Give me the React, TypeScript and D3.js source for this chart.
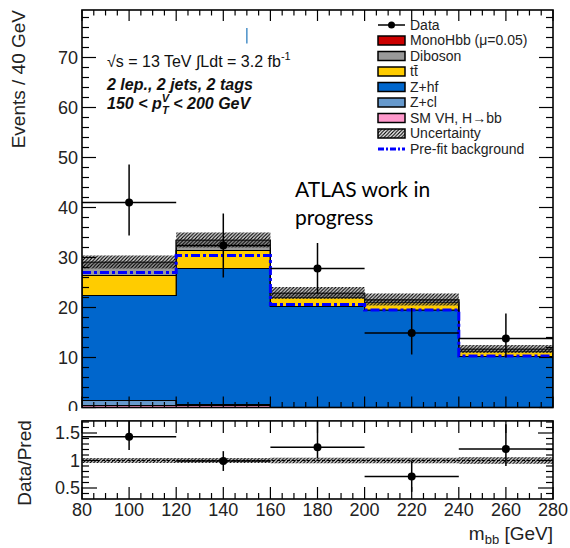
import React from 'react';
import * as d3 from 'd3';

// bins of m_bb [GeV]
const edges = [80, 120, 160, 200, 240, 280];
const centers = [100, 140, 180, 220, 260];

// stacked backgrounds (events / bin), bottom to top
const smvh = [0.4, 0.4, 0, 0, 0];
const zcl = [1.0, 0.2, 0, 0, 0];
const zhf = [21.0, 27.2, 20.2, 19.5, 10.2];
const ttbar = [4.0, 3.6, 1.8, 1.5, 1.0];
const diboson = [2.6, 2.0, 0.8, 0.5, 0.4];
const monohbb = [0.1, 0.1, 0.1, 0.1, 0.1];

const uncert = [1.3, 1.5, 1.2, 1.2, 0.8];
const prefit = [27.0, 30.4, 20.6, 19.5, 10.3];

const data = [41, 32.4, 27.8, 14.9, 13.8];
const dataUp = [7.6, 6.4, 5.1, 5.0, 5.0];
const dataDown = [6.6, 6.4, 5.0, 4.3, 3.8];

// ratio panel
const ratio = [1.43, 0.99, 1.24, 0.71, 1.21];
const ratioUp = [0.32, 0.18, 0.5, 0.28, 0.45];
const ratioDown = [0.24, 0.18, 0.2, 0.28, 0.31];
const ratioBand = [0.045, 0.045, 0.05, 0.05, 0.06];

const xTicks = [80, 100, 120, 140, 160, 180, 200, 220, 240, 260, 280];
const yTicks = [0, 10, 20, 30, 40, 50, 60, 70];
const rTicks = [0.5, 1, 1.5];

const layerKeys = ['smvh', 'zcl', 'zhf', 'ttbar', 'diboson', 'monohbb'];
const colors: Record<string, string> = {
  smvh: '#ff99cc',
  zcl: '#6699cc',
  zhf: '#0066cc',
  ttbar: '#ffcc00',
  diboson: '#999999',
  monohbb: '#cc0000',
};

const legend = [
  { key: 'data', label: 'Data' },
  { key: 'monohbb', label: 'MonoHbb (\u03bc=0.05)' },
  { key: 'diboson', label: 'Diboson' },
  { key: 'ttbar', label: 'tt\u0304' },
  { key: 'zhf', label: 'Z+hf' },
  { key: 'zcl', label: 'Z+cl' },
  { key: 'smvh', label: 'SM VH, H\u2192bb' },
  { key: 'unc', label: 'Uncertainty' },
  { key: 'prefit', label: 'Pre-fit background' },
];

const font = '"Liberation Sans", Arial, Helvetica, sans-serif';

export default function App() {
  const x = d3.scaleLinear().domain([80, 280]).range([82, 553]);
  const y = d3.scaleLinear().domain([0, 79.5]).range([407.5, 10]);
  const yr = d3.scaleLinear().domain([0.3, 1.72]).range([499, 420.9]);

  const rows = centers.map((_, i) => ({
    smvh: smvh[i], zcl: zcl[i], zhf: zhf[i], ttbar: ttbar[i], diboson: diboson[i], monohbb: monohbb[i],
  }));
  const stacked = d3.stack<any>().keys(layerKeys)(rows);
  const total = stacked[stacked.length - 1].map((d) => d[1]);

  const area = d3.area<any>().x((p) => x(p.x)).y0((p) => y(p.y0)).y1((p) => y(p.y1));
  const stepLine = d3.line<any>().x((p) => x(p.x)).y((p) => y(p.v));

  const prefitPts = prefit.flatMap((v, i) => [{ x: edges[i], v }, { x: edges[i + 1], v }]);

  const majorX = d3.range(80, 281, 20);
  const minorX = d3.range(80, 281, 5);
  const minorY = d3.range(0, 80, 2);
  const minorR = d3.range(0.4, 1.71, 0.1);

  const lx = 378, lw = 27, ltx = 410;
  const ly = (i: number) => 25 + i * 15.5;

  return (
    <svg width={570} height={548} style={{ position: 'absolute', left: 0, top: 0, background: '#fff' }}
      fontFamily={font}>
      <defs>
        <pattern id="hatch" patternUnits="userSpaceOnUse" width="3.5" height="3.5">
          <path d="M-1,1 l2,-2 M0,3.5 l3.5,-3.5 M2.5,4.5 l2,-2" stroke="#000" strokeWidth="1.1" />
        </pattern>
        <clipPath id="rclip">
          <rect x={x(80)} y={yr(1.72)} width={x(280) - x(80)} height={yr(0.3) - yr(1.72)} />
        </clipPath>
        <clipPath id="mclip">
          <rect x={x(80)} y={y(79.5)} width={x(280) - x(80)} height={y(0) - y(79.5)} />
        </clipPath>
      </defs>

      {/* stacked backgrounds */}
      <g clipPath="url(#mclip)">
        {stacked.map((s) => {
          const pts = s.flatMap((d, i) => [
            { x: edges[i], y0: d[0], y1: d[1] },
            { x: edges[i + 1], y0: d[0], y1: d[1] },
          ]);
          return (
            <path key={s.key} d={area(pts) || ''} fill={colors[s.key]} stroke="#000" strokeWidth={1.2} />
          );
        })}
        {total.map((t, i) => (
          <g key={i}>
            <rect x={x(edges[i])} width={x(edges[i + 1]) - x(edges[i])}
              y={y(t + uncert[i])} height={y(t - uncert[i]) - y(t + uncert[i])}
              fill="#aaa" fillOpacity={0.35} />
            <rect x={x(edges[i])} width={x(edges[i + 1]) - x(edges[i])}
              y={y(t + uncert[i])} height={y(t - uncert[i]) - y(t + uncert[i])}
              fill="url(#hatch)" />
          </g>
        ))}
        <path d={stepLine(prefitPts) || ''} fill="none" stroke="#0000ff" strokeWidth={3}
          strokeDasharray="9 3 3 3" />
        {/* data */}
        {data.map((v, i) => (
          <g key={i} stroke="#000" strokeWidth={1.5}>
            <line x1={x(edges[i])} x2={x(edges[i + 1])} y1={y(v)} y2={y(v)} />
            <line x1={x(centers[i])} x2={x(centers[i])} y1={y(v + dataUp[i])} y2={y(v - dataDown[i])} />
            <circle cx={x(centers[i])} cy={y(v)} r={4} fill="#000" stroke="none" />
          </g>
        ))}
      </g>
      {/* stray mark */}
      <line x1={x(150)} x2={x(150)} y1={y(72.8)} y2={y(75.9)} stroke="#4a90c8" strokeWidth={1.5} />

      {/* main ticks */}
      <g stroke="#000" strokeWidth={1.2}>
        {minorX.map((t) => {
          const L = majorX.includes(t) ? 11 : 5.5;
          return (
            <g key={t}>
              <line x1={x(t)} x2={x(t)} y1={y(0)} y2={y(0) - L} />
              <line x1={x(t)} x2={x(t)} y1={y(79.5)} y2={y(79.5) + L} />
            </g>
          );
        })}
        {minorY.map((t) => {
          const L = t % 10 === 0 ? 14 : 7;
          return (
            <g key={t}>
              <line x1={x(80)} x2={x(80) + L} y1={y(t)} y2={y(t)} />
              <line x1={x(280)} x2={x(280) - L} y1={y(t)} y2={y(t)} />
            </g>
          );
        })}
      </g>
      <rect x={x(80)} y={y(79.5)} width={x(280) - x(80)} height={y(0) - y(79.5)} fill="none"
        stroke="#000" strokeWidth={1.6} />
      <g fontSize={18} fill="#222" textAnchor="end">
        {yTicks.map((t) => (
          <text key={t} x={78} y={y(t)} dy="0.35em">{t}</text>
        ))}
      </g>
      <text transform="translate(25,10) rotate(-90)" textAnchor="end" fontSize={19} fill="#222">
        Events / 40 GeV
      </text>

      {/* labels */}
      <text x={107} y={67} fontSize={16} fill="#111">
        {'\u221as = 13 TeV \u222bLdt = 3.2 fb'}
        <tspan fontSize={11} dy={-7}>-1</tspan>
      </text>
      <text x={107} y={90} fontSize={16} fontWeight="bold" fontStyle="italic" fill="#111">
        2 lep., 2 jets, 2 tags
      </text>
      <text x={107} y={109} fontSize={16} fontWeight="bold" fontStyle="italic" fill="#111">
        {'150 < p'}
        <tspan fontSize={11} dy={-7}>V</tspan>
        <tspan fontSize={11} dx={-7} dy={12}>T</tspan>
        <tspan fontSize={16} dy={-5}>{' < 200 GeV'}</tspan>
      </text>
      <text fontFamily="Lato, 'Open Sans', sans-serif" fontSize={21} fill="#000">
        <tspan x={295} y={197}>ATLAS work in</tspan>
        <tspan x={295} y={225}>progress</tspan>
      </text>

      {/* legend */}
      <g fontSize={14} fill="#222">
        {legend.map((e, i) => {
          const cy = ly(i);
          let marker;
          if (e.key === 'data') {
            marker = (
              <g>
                <line x1={lx} x2={lx + lw} y1={cy} y2={cy} stroke="#000" strokeWidth={1.5} />
                <circle cx={lx + lw / 2} cy={cy} r={3.5} fill="#000" />
              </g>
            );
          } else if (e.key === 'prefit') {
            marker = <line x1={lx} x2={lx + lw} y1={cy} y2={cy} stroke="#0000ff" strokeWidth={3}
              strokeDasharray="6 2 2 2" />;
          } else if (e.key === 'unc') {
            marker = <rect x={lx} y={cy - 4.5} width={lw} height={9} fill="url(#hatch)" stroke="#000"
              strokeWidth={1.5} />;
          } else {
            marker = <rect x={lx} y={cy - 4.5} width={lw} height={9} fill={colors[e.key]} stroke="#000"
              strokeWidth={1.5} />;
          }
          return (
            <g key={e.key}>
              {marker}
              <text x={ltx} y={cy} dy="0.35em">{e.label}</text>
            </g>
          );
        })}
      </g>

      {/* ratio pad */}
      <rect x={0} y={411} width={570} height={137} fill="#fff" />
      <g clipPath="url(#rclip)">
        {ratioBand.map((b, i) => (
          <g key={i}>
            <rect x={x(edges[i])} width={x(edges[i + 1]) - x(edges[i])} y={yr(1 + b)}
              height={yr(1 - b) - yr(1 + b)} fill="#aaa" fillOpacity={0.35} />
            <rect x={x(edges[i])} width={x(edges[i + 1]) - x(edges[i])} y={yr(1 + b)}
              height={yr(1 - b) - yr(1 + b)} fill="url(#hatch)" />
          </g>
        ))}
        <line x1={x(80)} x2={x(280)} y1={yr(1)} y2={yr(1)} stroke="#000" strokeWidth={1}
          strokeDasharray="3 2" />
        {ratio.map((v, i) => (
          <g key={i} stroke="#000" strokeWidth={1.5}>
            <line x1={x(edges[i])} x2={x(edges[i + 1])} y1={yr(v)} y2={yr(v)} />
            <line x1={x(centers[i])} x2={x(centers[i])} y1={yr(v + ratioUp[i])} y2={yr(v - ratioDown[i])} />
            <circle cx={x(centers[i])} cy={yr(v)} r={4} fill="#000" stroke="none" />
          </g>
        ))}
      </g>
      <g stroke="#000" strokeWidth={1.2}>
        {minorX.map((t) => {
          const L = majorX.includes(t) ? 12 : 6;
          return (
            <g key={t}>
              <line x1={x(t)} x2={x(t)} y1={yr(0.3)} y2={yr(0.3) - L} />
              <line x1={x(t)} x2={x(t)} y1={yr(1.72)} y2={yr(1.72) + L} />
            </g>
          );
        })}
        {minorR.map((t) => {
          const major = rTicks.some((r) => Math.abs(r - t) < 1e-6);
          const L = major ? 15 : 7;
          return (
            <g key={t.toFixed(1)}>
              <line x1={x(80)} x2={x(80) + L} y1={yr(t)} y2={yr(t)} />
              <line x1={x(280)} x2={x(280) - L} y1={yr(t)} y2={yr(t)} />
            </g>
          );
        })}
      </g>
      <rect x={x(80)} y={yr(1.72)} width={x(280) - x(80)} height={yr(0.3) - yr(1.72)} fill="none"
        stroke="#000" strokeWidth={1.6} />
      <g fontSize={18} fill="#222" textAnchor="end">
        {rTicks.map((t) => (
          <text key={t} x={80} y={yr(t)} dy="0.35em">{t}</text>
        ))}
      </g>
      <g fontSize={18} fill="#222" textAnchor="middle">
        {xTicks.map((t) => (
          <text key={t} x={x(t)} y={516}>{t}</text>
        ))}
      </g>
      <text transform="translate(31,463) rotate(-90)" textAnchor="middle" fontSize={19} fill="#222">
        Data/Pred
      </text>
      <text x={553} y={540} textAnchor="end" fontSize={19} fill="#222">
        m<tspan fontSize={13} dy={4}>bb</tspan>
        <tspan dy={-4}>{' [GeV]'}</tspan>
      </text>
    </svg>
  );
}
